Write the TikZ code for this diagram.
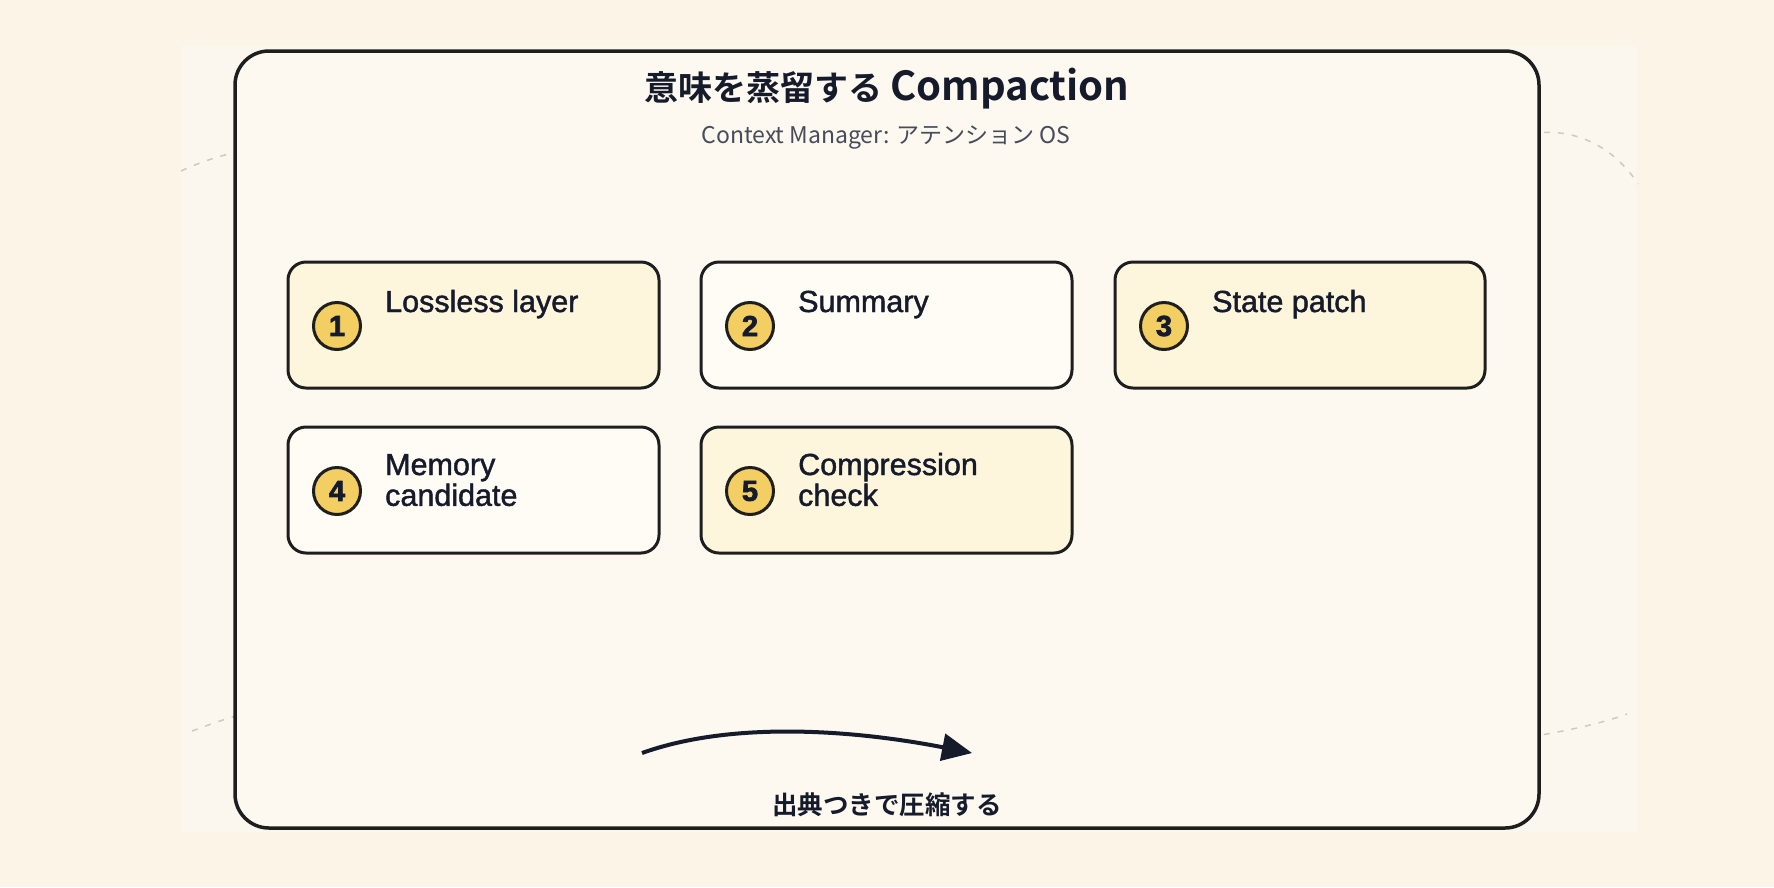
\documentclass[tikz,border=0pt]{standalone}
\usepackage{fontspec}
\usetikzlibrary{arrows.meta}
\setmainfont{Liberation Sans}
\newfontfamily\jp[BoldFont={* Bold}]{Noto Sans CJK JP}
\newfontfamily\boxf[FakeBold=1.4]{Liberation Sans}
\newfontfamily\numf[FakeBold=2.5]{Liberation Sans Bold}
\definecolor{bgc}{HTML}{FBF4E7}
\definecolor{panelc}{HTML}{FBF7EE}
\definecolor{framefill}{HTML}{FDF9F0}
\definecolor{ink}{HTML}{161B2B}
\definecolor{edge}{HTML}{1E1E1E}
\definecolor{yel}{HTML}{FDF5DC}
\definecolor{wht}{HTML}{FEFCF4}
\definecolor{gold}{HTML}{F2CE63}
\definecolor{subc}{HTML}{474C5A}
\definecolor{dashc}{HTML}{CFCAC0}
\tikzset{
  card/.style={draw=edge, line width=3pt, rounded corners=18pt},
  badge/.style={circle, draw=edge, fill=gold, line width=3pt, minimum size=47pt, inner sep=0pt, text=ink, font=\numf\fontsize{29}{29}\selectfont},
  cardtext/.style={anchor=base west, inner sep=0pt, text=ink, font=\boxf\fontsize{30.5}{29}\selectfont},
  deco/.style={draw=dashc, line width=1.5pt, dash pattern=on 6pt off 8pt},
}
\begin{document}
\begin{tikzpicture}[x=1pt,y=-1pt]
\fill[bgc] (0,0) rectangle (1774,887);
\useasboundingbox (0,0) rectangle (1774,887);
\fill[panelc] (181,46) rectangle (1637,832);
% decorative dashed curves
\draw[deco] (181,171) .. controls (200,162) and (222,155) .. (245,150);
\draw[deco] (1530,134) .. controls (1575,126) and (1615,148) .. (1638,184);
\draw[deco] (192,731) .. controls (208,725) and (225,719) .. (245,713);
\draw[deco] (1530,737) .. controls (1565,731) and (1600,724) .. (1627,714);
% frame
\draw[fill=framefill, draw=edge, line width=3.5pt, rounded corners=34pt] (235,51) rectangle (1539,828);
% title
\node[text=ink, anchor=base, font=\jp\bfseries\fontsize{34}{34}\selectfont] (title) at (887,100) {意味を蒸留する {\fontsize{40}{40}\selectfont Compaction}};
\node[text=subc, font=\jp\fontsize{23}{23}\selectfont] (sub) at (886,138) {Context Manager: アテンション OS};
% cards
\draw[card, fill=yel] (288,262) rectangle (659,388);
\draw[card, fill=wht] (701,262) rectangle (1072,388);
\draw[card, fill=yel] (1115,262) rectangle (1485,388);
\draw[card, fill=wht] (288,427) rectangle (659,553);
\draw[card, fill=yel] (701,427) rectangle (1072,553);
\node[badge] (b1) at (337,326) {1};
\node[badge] (b2) at (750,326) {2};
\node[badge] (b3) at (1164,326) {3};
\node[badge] (b4) at (337,491) {4};
\node[badge] (b5) at (750,491) {5};
\node[cardtext] (t1) at (385,312) {Lossless layer};
\node[cardtext] (t2) at (798,312) {Summary};
\node[cardtext] (t3) at (1212,312) {State patch};
\node[cardtext] (t4) at (385,475) {\begin{tabular}[t]{@{}l@{}}Memory\\candidate\end{tabular}};
\node[cardtext] (t5) at (798,475) {\begin{tabular}[t]{@{}l@{}}Compression\\check\end{tabular}};
% arrow
\coordinate (as) at (642,753);
\coordinate (ae) at (972,753);
\draw[ink, line width=4pt, -{Triangle[length=30pt,width=27pt]}] (as) .. controls (740,718) and (870,733) .. (ae);
\node[text=ink, font=\jp\bfseries\fontsize{25.5}{25.5}\selectfont] (lab) at (887,805) {出典つきで圧縮する};
\end{tikzpicture}
\end{document}
